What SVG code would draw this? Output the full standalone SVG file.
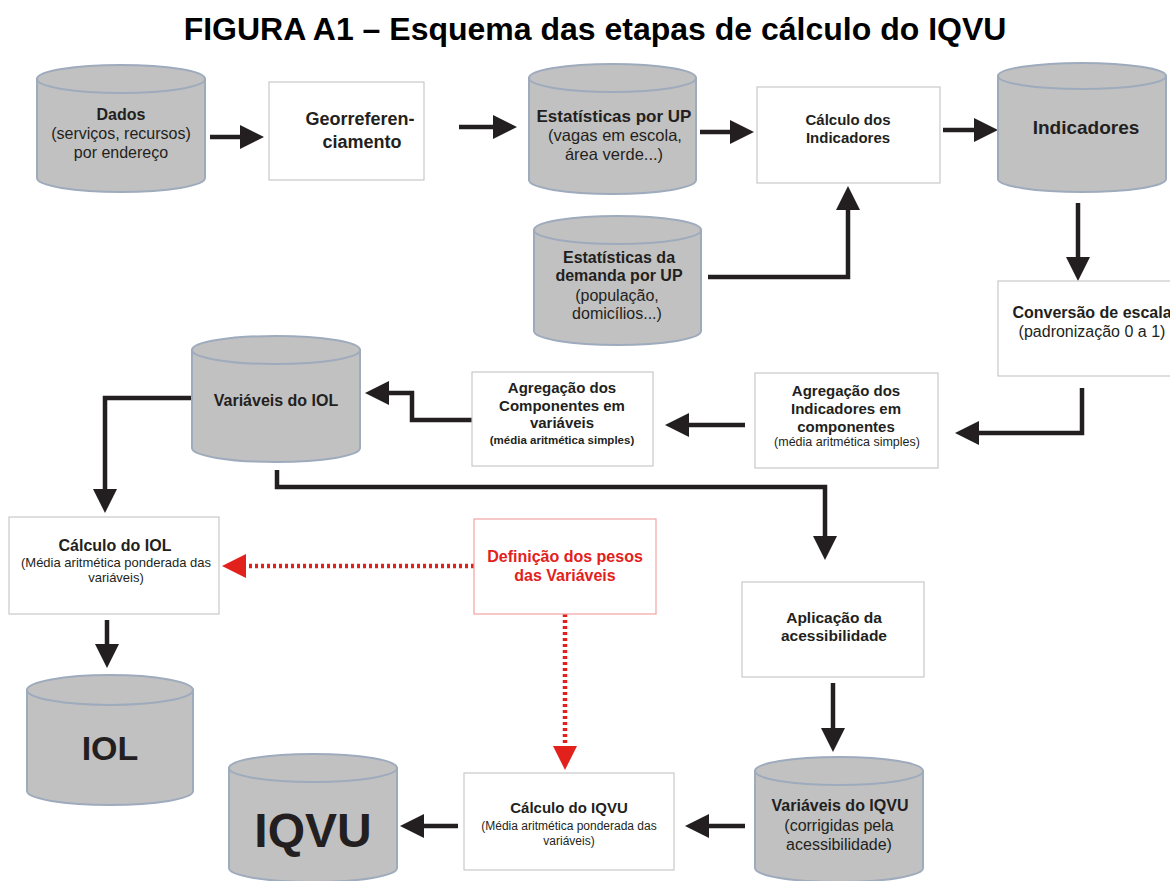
<svg xmlns="http://www.w3.org/2000/svg" width="1170" height="881" viewBox="0 0 1170 881">
<style>
text{font-family:"Liberation Sans",Arial,sans-serif;fill:#231f20;text-anchor:middle}
.t{font-size:32px;font-weight:bold;fill:#000}
.b{font-size:15px;font-weight:bold}
.B{font-size:16px;font-weight:bold}
.r{font-size:16px}
.s{font-size:12px}
.s2{font-size:12.5px}
.sb{font-size:11.5px;font-weight:bold}
.red{fill:#e3211c}
.cyl{fill:#c1c1c1;stroke:#9eabbd;stroke-width:2}
.box{fill:#fff;stroke:#c9c9c9;stroke-width:1.2}
.rbox{fill:#fff;stroke:#f2a3a3;stroke-width:1.2}
.ln{fill:none;stroke:#231f20;stroke-width:4.5}
.dl{fill:none;stroke:#e3211c;stroke-width:4.5;stroke-dasharray:3 3}
</style>
<defs>
<marker id="ah" viewBox="0 -12 24 24" refX="0" refY="0" markerWidth="24" markerHeight="24" markerUnits="userSpaceOnUse" orient="auto"><path d="M0,-12L24,0L0,12Z" fill="#231f20"/></marker>
<marker id="rah" viewBox="0 -12 24 24" refX="0" refY="0" markerWidth="24" markerHeight="24" markerUnits="userSpaceOnUse" orient="auto"><path d="M0,-12L24,0L0,12Z" fill="#e3211c"/></marker>
</defs>
<rect width="1170" height="881" fill="#fff"/>
<text class="t" x="595" y="40">FIGURA A1 – Esquema das etapas de cálculo do IQVU</text>

<g id="connectors">
<path class="ln" d="M210,137H240" marker-end="url(#ah)"/>
<path class="ln" d="M459,127H493" marker-end="url(#ah)"/>
<path class="ln" d="M700,132H730" marker-end="url(#ah)"/>
<path class="ln" d="M943,130H974" marker-end="url(#ah)"/>
<path class="ln" d="M1078,203V257" marker-end="url(#ah)"/>
<path class="ln" d="M708,277H848V210" marker-end="url(#ah)"/>
<path class="ln" d="M1082,388V433H979" marker-end="url(#ah)"/>
<path class="ln" d="M745,425H689" marker-end="url(#ah)"/>
<path class="ln" d="M472,420H412V393H389" marker-end="url(#ah)"/>
<path class="ln" d="M192,398H105V489" marker-end="url(#ah)"/>
<path class="ln" d="M277,470V487H825V536" marker-end="url(#ah)"/>
<path class="ln" d="M107,620V644" marker-end="url(#ah)"/>
<path class="ln" d="M833,683V728" marker-end="url(#ah)"/>
<path class="ln" d="M745,826H709" marker-end="url(#ah)"/>
<path class="ln" d="M458,826H424" marker-end="url(#ah)"/>
<path class="dl" d="M474,566H246" marker-end="url(#rah)"/>
<path class="dl" d="M565,614V746" marker-end="url(#rah)"/>
</g>

<g id="dados">
<path class="cyl" d="M37,79V178A84,14 0 0 0 205,178V79Z"/>
<ellipse class="cyl" cx="121" cy="79" rx="84" ry="14"/>
<text class="B" x="121" y="120">Dados</text>
<text class="r" x="121" y="139">(serviços, recursos)</text>
<text class="r" x="121" y="158">por endereço</text>
</g>

<g id="georref">
<rect class="box" x="269" y="82" width="155" height="98"/>
<text x="360" y="125" style="font-size:18px;font-weight:bold">Georreferen-</text>
<text x="362" y="148" style="font-size:18px;font-weight:bold">ciamento</text>
</g>

<g id="estup">
<path class="cyl" d="M529,78V180A83.5,14 0 0 0 696,180V78Z"/>
<ellipse class="cyl" cx="612.5" cy="78" rx="83.5" ry="14"/>
<text x="614" y="122" style="font-size:17px;font-weight:bold">Estatísticas por UP</text>
<text x="615" y="141" style="font-size:16.5px">(vagas em escola,</text>
<text x="614" y="160" style="font-size:16.5px">área verde...)</text>
</g>

<g id="calcind">
<rect class="box" x="757" y="87" width="183" height="96"/>
<text class="b" x="848" y="125">Cálculo dos</text>
<text class="b" x="848" y="143">Indicadores</text>
</g>

<g id="indicadores">
<path class="cyl" d="M998,76V179A84,13 0 0 0 1166,179V76Z"/>
<ellipse class="cyl" cx="1082" cy="76" rx="84" ry="13"/>
<text x="1086" y="134" style="font-size:19px;font-weight:bold">Indicadores</text>
</g>

<g id="demanda">
<path class="cyl" d="M534,230V331A83.5,14 0 0 0 701,331V230Z"/>
<ellipse class="cyl" cx="617.5" cy="230" rx="83.5" ry="14"/>
<text class="B" x="619" y="263">Estatísticas da</text>
<text class="B" x="619" y="281">demanda por UP</text>
<text class="r" x="617" y="301">(população,</text>
<text class="r" x="617" y="319">domicílios...)</text>
</g>

<g id="conversao">
<rect class="box" x="998" y="281" width="187" height="95"/>
<text class="B" x="1092" y="318">Conversão de escala</text>
<text class="r" x="1092" y="337">(padronização 0 a 1)</text>
</g>

<g id="agregind">
<rect class="box" x="755" y="373" width="183" height="95"/>
<text class="b" x="846" y="396">Agregação dos</text>
<text class="b" x="846" y="414">Indicadores em</text>
<text class="b" x="846" y="432">componentes</text>
<text class="s2" x="847" y="446">(média aritmética simples)</text>
</g>

<g id="agregcomp">
<rect class="box" x="472" y="372" width="181" height="94"/>
<text class="b" x="562" y="393">Agregação dos</text>
<text class="b" x="562" y="411">Componentes em</text>
<text class="b" x="562" y="428">variáveis</text>
<text class="sb" x="562" y="444">(média aritmética simples)</text>
</g>

<g id="variol">
<path class="cyl" d="M192,350V448A84,14 0 0 0 360,448V350Z"/>
<ellipse class="cyl" cx="276" cy="350" rx="84" ry="14"/>
<text class="B" x="276" y="406">Variáveis do IOL</text>
</g>

<g id="calciol">
<rect class="box" x="9" y="517" width="210" height="97"/>
<text class="B" x="115" y="551">Cálculo do IOL</text>
<text x="116" y="567" style="font-size:13px">(Média aritmética ponderada das</text>
<text x="116" y="582" style="font-size:13px">variáveis)</text>
</g>

<g id="definicao">
<rect class="rbox" x="474" y="519" width="182" height="95"/>
<text class="B red" x="565" y="562">Definição dos pesos</text>
<text class="B red" x="565" y="581">das Variáveis</text>
</g>

<g id="aplicacao">
<rect class="box" x="742" y="582" width="182" height="95"/>
<text x="834" y="623" style="font-size:15.5px;font-weight:bold">Aplicação da</text>
<text x="834" y="641" style="font-size:15.5px;font-weight:bold">acessibilidade</text>
</g>

<g id="iol">
<path class="cyl" d="M27,690V791A83,14 0 0 0 193,791V690Z"/>
<ellipse class="cyl" cx="110" cy="690" rx="83" ry="15"/>
<text x="110" y="760" style="font-size:34px;font-weight:bold">IOL</text>
</g>

<g id="iqvu">
<path class="cyl" d="M229,768V868A84,14 0 0 0 397,868V768Z"/>
<ellipse class="cyl" cx="313" cy="768" rx="84" ry="14"/>
<text x="313" y="847" style="font-size:48px;font-weight:bold">IQVU</text>
</g>

<g id="calciqvu">
<rect class="box" x="464" y="773" width="210" height="97"/>
<text class="b" x="569" y="813">Cálculo do IQVU</text>
<text class="s" x="569" y="830">(Média aritmética ponderada das</text>
<text class="s" x="569" y="845">variáveis)</text>
</g>

<g id="variqvu">
<path class="cyl" d="M755,771V868A84,14 0 0 0 923,868V771Z"/>
<ellipse class="cyl" cx="839" cy="771" rx="84" ry="14"/>
<text class="B" x="840" y="811">Variáveis do IQVU</text>
<text class="r" x="839" y="831">(corrigidas pela</text>
<text class="r" x="839" y="850">acessibilidade)</text>
</g>
</svg>
